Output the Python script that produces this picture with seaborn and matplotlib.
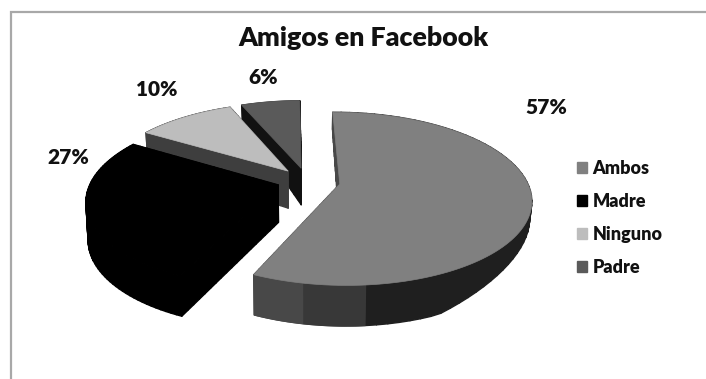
import numpy as np
import matplotlib
matplotlib.use("Agg")
import matplotlib.pyplot as plt
from matplotlib.collections import PolyCollection
from matplotlib.patches import Polygon, Patch
import seaborn as sns

categories = ["Ambos", "Madre", "Ninguno", "Padre"]
shares = [57, 27, 10, 6]
top_colors = ["#808080", "#000000", "#bdbdbd", "#5a5a5a"]
cut_colors = ["#484848", "#000000", "#3e3e3e", "#111111"]
label_spots = [(546, 108), (68, 157), (157, 90), (263, 78)]

# Geometry of the tilted pie, in pixels of the figure
CX, CY, RX, RY = 307, 181, 187, 83
PERSPECTIVE = 0.17
EXPLODE = [0.178, 0.16, 0.16, 0.16]
BASE_SCALE = 0.99
FIRST_ANGLE = -0.8
rim_bands = [(0, 176, "#1f1f1f"), (176, 192, "#383838"), (192, 360, "#484848")]

sns.set_theme(style="white")
plt.rcParams["font.family"] = ["Lato", "DejaVu Sans"]

fig = plt.figure(figsize=(7.06, 3.79), dpi=100)
ax = fig.add_axes([0, 0, 1, 1])
ax.set_xlim(0, 706)
ax.set_ylim(379, 0)
ax.axis("off")


def top_face(u, v):
    w = 1 + PERSPECTIVE * v
    return CX + RX * u / w, CY - RY * v / w


def base_of(x, y):
    # The wall looks shorter towards the back and at the far right of the pie
    depth = np.interp(y, [100, 170, 330], [13, 37, 42]) * np.interp(x, [440, 535], [1, 0.45])
    return CX + (x - CX) * BASE_SCALE, y + depth


def outline(theta, mid, off, radius=1.0):
    u = off * np.sin(mid) + radius * np.sin(theta)
    v = off * np.cos(mid) + radius * np.cos(theta)
    return top_face(u, v)


def wall_quads(xs, ys):
    # One quad per step, so the wall's silhouette stays filled where it turns
    bx, by = base_of(xs, ys)
    return [[(xs[j], ys[j]), (xs[j + 1], ys[j + 1]), (bx[j + 1], by[j + 1]), (bx[j], by[j])]
            for j in range(len(xs) - 1)]


edges = np.r_[0, np.cumsum(shares)] / sum(shares) * 360
order = [3, 2, 1, 0]  # far slices first

for i in order:
    start, stop = edges[i], edges[i + 1]
    mid = np.radians((start + stop) / 2 + FIRST_ANGLE)
    off = EXPLODE[i]
    arc = np.radians(np.linspace(start, stop, 120) + FIRST_ANGLE)
    ax_x, ax_y = outline(arc, mid, off)

    # Outer wall, shaded in bands
    for lo, hi, shade in rim_bands:
        a, b = max(lo, start), min(hi, stop)
        if a >= b:
            continue
        part = np.radians(np.linspace(a, b, 60) + FIRST_ANGLE)
        color = "#000000" if i == 1 else shade
        px, py = outline(part, mid, off)
        ax.add_collection(PolyCollection(wall_quads(px, py), facecolors=color,
                                         edgecolors=color, linewidths=1.0))

    # Flat cut through the centre of the slice
    rr = np.linspace(0, 1, 20)
    for edge in (start, stop):
        cx_, cy_ = outline(np.radians(edge + FIRST_ANGLE) * np.ones(20), mid, off, rr)
        ax.add_collection(PolyCollection(wall_quads(cx_, cy_), facecolors=cut_colors[i],
                                         edgecolors=cut_colors[i], linewidths=1.0))

    apex_x, apex_y = outline(np.array([0.0]), mid, off, 0.0)
    face = np.c_[np.r_[apex_x, ax_x], np.r_[apex_y, ax_y]]
    ax.add_patch(Polygon(face, closed=True, fc=top_colors[i], ec=top_colors[i], lw=0.5))

# Value labels and title
for share, (lx, ly) in zip(shares, label_spots):
    ax.text(lx, ly, f"{share}%", ha="center", va="center", fontsize=15,
            fontweight=800, color="#111111")
ax.text(363, 38, "Amigos en Facebook", ha="center", va="center", fontsize=19.3,
        fontweight=800, color="#111111")

# Chart frame, open on the right and at the bottom
ax.plot([10.5, 10.5, 706], [379, 12, 12], color="#a8a8a8", lw=1.6, solid_joinstyle="miter")

handles = [Patch(fc=c, ec=c) for c in top_colors]
ax.legend(handles, categories, loc="upper left", bbox_to_anchor=(577, 160),
          bbox_transform=ax.transData, frameon=False,
          prop={"family": "Lato", "weight": 800, "size": 13},
          handlelength=0.55, handleheight=0.55, handletextpad=0.3,
          labelspacing=0.88, borderpad=0, borderaxespad=0, labelcolor="#111111")

fig.savefig("out.png", dpi=100)
